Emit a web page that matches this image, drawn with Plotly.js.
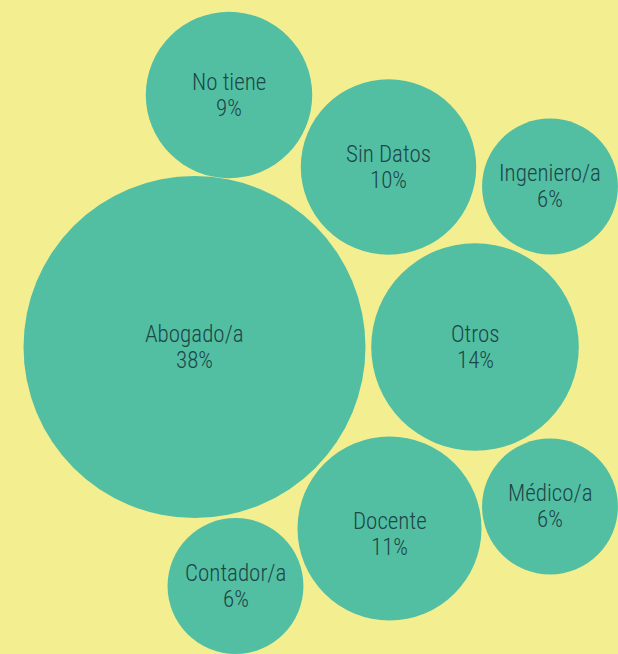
<!DOCTYPE html>
<html>
<head>
<meta charset="utf-8">
<script src="https://cdn.plot.ly/plotly-3.0.1.min.js"></script>
<style>html,body{margin:0;padding:0;background:#f3ef91;}#chart{width:618px;height:654px;}</style>
</head>
<body>
<div id="chart"></div>
<script>
// Data
var categories = ["Abogado/a", "No tiene", "Sin Datos", "Ingeniero/a", "Otros", "Médico/a", "Docente", "Contador/a"];
var percentages = [38, 9, 10, 6, 14, 6, 11, 6];
// Packed-bubble layout (centre positions in chart units)
var packX = [194.5, 229, 388.5, 550, 475, 550, 389.5, 235.5];
var packY = [347, 95, 167, 186.5, 347, 506.5, 528.5, 586];
// Label vertical nudge (px, positive = down)
var labelNudge = [0, 0, 0, 0, 0, 0, 6, 0];

var W = 618, H = 654;
var maxDiameter = 342;
var sizeref = 2 * Math.max.apply(null, percentages) / (maxDiameter * maxDiameter);

var textColor = "#1d4646";
var fontFam = "'Liberation Sans Narrow', 'Roboto Condensed', 'Arial Narrow', Roboto, sans-serif";
var fontSize = 23;
var lineGap = 13;

var annotations = [];
categories.forEach(function (c, i) {
  annotations.push({
    x: packX[i], y: packY[i], xref: "x", yref: "y", text: c, showarrow: false,
    xanchor: "center", yanchor: "middle", yshift: lineGap - labelNudge[i],
    font: {family: fontFam, size: fontSize, color: textColor, weight: 300}
  });
  annotations.push({
    x: packX[i], y: packY[i], xref: "x", yref: "y", text: percentages[i] + "%", showarrow: false,
    xanchor: "center", yanchor: "middle", yshift: -lineGap - labelNudge[i],
    font: {family: fontFam, size: fontSize, color: textColor, weight: 300}
  });
});

var trace = {
  type: "scatter",
  mode: "markers",
  x: packX,
  y: packY,
  text: categories,
  hoverinfo: "text",
  marker: {
    size: percentages,
    sizemode: "area",
    sizeref: sizeref,
    color: "#52bfa3",
    opacity: 1,
    line: {width: 0}
  },
  cliponaxis: false
};

var layout = {
  width: W, height: H,
  margin: {l: 0, r: 0, t: 0, b: 0, pad: 0},
  paper_bgcolor: "#f3ef91",
  plot_bgcolor: "#f3ef91",
  showlegend: false,
  xaxis: {range: [0, W], visible: false, fixedrange: true},
  yaxis: {range: [H, 0], visible: false, fixedrange: true},
  annotations: annotations
};

Plotly.newPlot("chart", [trace], layout, {displayModeBar: false, staticPlot: true});
</script>
</body>
</html>
